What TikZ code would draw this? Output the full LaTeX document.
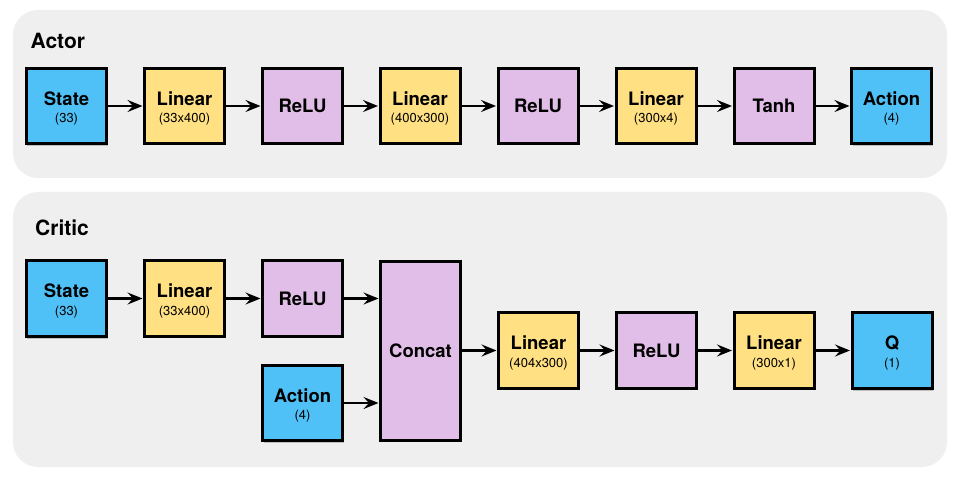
\documentclass[tikz,border=0pt]{standalone}
\usepackage{fontspec}
\setmainfont{TeX Gyre Heros}
\usetikzlibrary{arrows.meta,shadows}
\definecolor{bluebox}{RGB}{80,193,246}
\definecolor{yelbox}{RGB}{255,224,130}
\definecolor{purbox}{RGB}{225,190,231}
\definecolor{panelbg}{RGB}{239,239,239}
\tikzset{
  box/.style={draw=black, line width=3bp, minimum width=80bp, minimum height=75bp, inner sep=0pt, align=center, font=\fontsize{18.5bp}{19bp}\selectfont\bfseries},
  iobox/.style={box, fill=bluebox, drop shadow={shadow xshift=1bp, shadow yshift=-2.5bp, opacity=0.35, fill=black!60}},
  linbox/.style={box, fill=yelbox},
  actbox/.style={box, fill=purbox},
  panel/.style={fill=panelbg, draw=none, rounded corners=25bp},
  ptitle/.style={anchor=west, inner sep=0pt, font=\fontsize{21bp}{22bp}\selectfont\bfseries},
  conn/.style={line width=2.8bp, -{Stealth[length=15bp, width=12bp, inset=5.5bp]}, shorten >=0.5bp}
}
\newcommand{\twoline}[2]{\rule{0pt}{18.5bp}#1\\[-1.5bp]{\fontsize{13bp}{14bp}\selectfont\mdseries #2}}
\begin{document}
\begin{tikzpicture}[x=1bp, y=-1bp]
\useasboundingbox (0,0) rectangle (960,478);
\fill[white] (0,0) rectangle (960,478);
% panels
\path[panel] (13,10) rectangle (947,178);
\path[panel] (13,192) rectangle (947,467);
\node[ptitle] (tactor) at (30.5,41) {Actor};
\node[ptitle] (tcritic) at (35,228) {Critic};
% Actor row
\node[iobox]  (as)  at (66.5,106) {\twoline{State}{(33)}};
\node[linbox] (al1) at (184.5,106) {\twoline{Linear}{(33x400)}};
\node[actbox] (ar1) at (302.5,106) {ReLU};
\node[linbox] (al2) at (420,106) {\twoline{Linear}{(400x300)}};
\node[actbox] (ar2) at (538,106) {ReLU};
\node[linbox] (al3) at (656,106) {\twoline{Linear}{(300x4)}};
\node[actbox] (at)  at (774,106) {Tanh};
\node[iobox]  (aa)  at (891.5,106) {\twoline{Action}{(4)}};
\draw[conn] (as) -- (al1);
\draw[conn] (al1) -- (ar1);
\draw[conn] (ar1) -- (al2);
\draw[conn] (al2) -- (ar2);
\draw[conn] (ar2) -- (al3);
\draw[conn] (al3) -- (at);
\draw[conn] (at) -- (aa);
% Critic
\node[iobox]  (cs)  at (66.5,298.5) {\twoline{State}{(33)}};
\node[linbox] (cl1) at (184.5,298.5) {\twoline{Linear}{(33x400)}};
\node[actbox] (cr1) at (302.5,298.5) {ReLU};
\node[iobox]  (ca)  at (302.5,403) {\twoline{Action}{(4)}};
\node[actbox, minimum height=179bp] (cc) at (420.5,351) {Concat};
\node[linbox] (cl2) at (538.5,350.5) {\twoline{Linear}{(404x300)}};
\node[actbox] (cr2) at (656.5,350.5) {ReLU};
\node[linbox] (cl3) at (774,350.5) {\twoline{Linear}{(300x1)}};
\node[iobox]  (cq)  at (892,350.5) {\twoline{Q}{(1)}};
\draw[conn] (cs) -- (cl1);
\draw[conn] (cl1) -- (cr1);
\draw[conn] (cr1.east) -- (cr1.east -| cc.west);
\draw[conn] (ca.east) -- (ca.east -| cc.west);
\draw[conn] (cc.east |- cl2.west) -- (cl2.west);
\draw[conn] (cl2) -- (cr2);
\draw[conn] (cr2) -- (cl3);
\draw[conn] (cl3) -- (cq);
\end{tikzpicture}
\end{document}
